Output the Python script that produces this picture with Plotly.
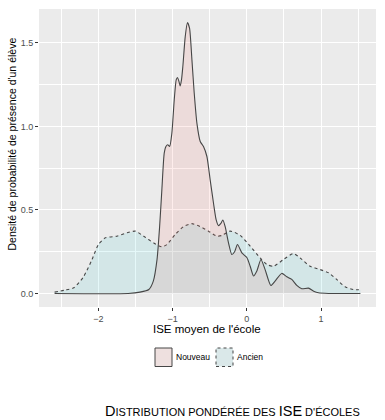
import plotly.graph_objects as go

# Nouveau (solid)
nouveau_x = [-2.59, -1.6, -1.44, -1.32, -1.26, -1.21, -1.175, -1.145, -1.113, -1.09, -1.065, -1.04,
             -1.01, -0.978, -0.951, -0.934, -0.915, -0.898, -0.88, -0.862, -0.83, -0.80, -0.772,
             -0.74, -0.709, -0.673, -0.628, -0.584, -0.538, -0.494, -0.449, -0.413, -0.382,
             -0.35, -0.323, -0.292, -0.247, -0.202, -0.165, -0.126, -0.067, 0.0, 0.045, 0.09,
             0.135, 0.19, 0.246, 0.323, 0.38, 0.47, 0.538, 0.605, 0.673, 0.74, 0.83, 0.9, 0.965,
             1.1, 1.53]
nouveau_y = [0.0, 0.0, 0.008, 0.024, 0.074, 0.203, 0.40, 0.62, 0.84, 0.88, 0.89, 0.88,
             0.96, 1.16, 1.28, 1.293, 1.27, 1.243, 1.28, 1.36, 1.538, 1.622, 1.588,
             1.40, 1.20, 1.02, 0.91, 0.88, 0.82, 0.68, 0.54, 0.44, 0.406,
             0.42, 0.44, 0.40, 0.303, 0.233, 0.25, 0.293, 0.243, 0.215, 0.163, 0.105,
             0.135, 0.203, 0.143, 0.048, 0.074, 0.12, 0.10, 0.084, 0.048, 0.028, 0.032, 0.014, 0.004,
             0.0, 0.0]

# Ancien (dotted)
ancien_x = [-2.59, -2.45, -2.33, -2.2, -2.086, -2.0, -1.907, -1.75, -1.615, -1.503, -1.39, -1.257,
            -1.145, -1.077, -0.965, -0.853, -0.74, -0.628, -0.517, -0.404, -0.337, -0.225, -0.09,
            0.045, 0.18, 0.27, 0.36, 0.493, 0.628, 0.717, 0.852, 0.987, 1.1, 1.21, 1.323, 1.435, 1.53]
ancien_y = [0.008, 0.02, 0.034, 0.10, 0.203, 0.293, 0.333, 0.343, 0.363, 0.373, 0.343, 0.303,
            0.279, 0.293, 0.353, 0.40, 0.418, 0.40, 0.373, 0.343, 0.347, 0.373, 0.348,
            0.283, 0.213, 0.173, 0.163, 0.203, 0.239, 0.213, 0.163, 0.143, 0.124, 0.084, 0.04, 0.024, 0.022]

x_ticks = [-2, -1, 0, 1]
x_tick_labels = ["\u22122", "\u22121", "0", "1"]
y_ticks = [0.0, 0.5, 1.0, 1.5]
y_tick_labels = ["0.0", "0.5", "1.0", "1.5"]

legend_labels = ["Nouveau", "Ancien"]

FONT = "Liberation Sans, Arial, sans-serif"
LINE = "rgb(70,70,70)"
PINK = "rgba(248,118,109,0.13)"
TEAL = "rgba(0,191,196,0.10)"

fig = go.Figure()
fig.add_trace(go.Scatter(x=ancien_x, y=ancien_y, mode="lines", fill="tozeroy",
                         fillcolor=TEAL, line=dict(color=LINE, width=1.1, dash="dot",
                                                   shape="spline", smoothing=0.6),
                         name=legend_labels[1], showlegend=False, hoverinfo="skip"))
fig.add_trace(go.Scatter(x=nouveau_x, y=nouveau_y, mode="lines", fill="tozeroy",
                         fillcolor=PINK, line=dict(color=LINE, width=1.1,
                                                   shape="spline", smoothing=0.6),
                         name=legend_labels[0], showlegend=False, hoverinfo="skip"))

axis_common = dict(showline=False, zeroline=False, gridcolor="white", gridwidth=1.1,
                   ticks="outside", ticklen=3, tickcolor="#333333", tickwidth=1,
                   tickfont=dict(family=FONT, size=9, color="#4D4D4D"))

fig.update_xaxes(range=[-2.8, 1.74], tickvals=x_ticks, ticktext=x_tick_labels,
                 minor=dict(tickvals=[-2.5, -1.5, -0.5, 0.5, 1.5], showgrid=True,
                            gridcolor="white", gridwidth=0.5, ticks=""),
                 **axis_common)
fig.update_yaxes(range=[-0.081, 1.703], tickvals=y_ticks, ticktext=y_tick_labels,
                 minor=dict(tickvals=[0.25, 0.75, 1.25], showgrid=True,
                            gridcolor="white", gridwidth=0.5, ticks=""),
                 **axis_common)

W, H = 385, 420
L, T, R, B = 39, 9, 9, 113
pw, ph = W - L - R, H - T - B

def px(xp):
    return (xp - L) / pw

def py(yp):
    return (H - B - yp) / ph

annotations = [
    dict(text="ISE moyen de l'école", x=px(207), y=py(329), xref="paper", yref="paper",
         showarrow=False, font=dict(family=FONT, size=11.5, color="black"),
         xanchor="center", yanchor="middle"),
    dict(text="Densité de probabilité de présence d'un élève", x=px(11.5), y=py(144),
         xref="paper", yref="paper", showarrow=False, textangle=-90,
         font=dict(family=FONT, size=10.5, color="black"), xanchor="center", yanchor="middle"),
    dict(text=legend_labels[0], x=px(174), y=py(357), xref="paper", yref="paper",
         showarrow=False, font=dict(family=FONT, size=8.5, color="black"),
         xanchor="left", yanchor="middle"),
    dict(text=legend_labels[1], x=px(235), y=py(357), xref="paper", yref="paper",
         showarrow=False, font=dict(family=FONT, size=8.5, color="black"),
         xanchor="left", yanchor="middle"),
    dict(text=("<span style='font-size:14.5px'>D</span>ISTRIBUTION PONDÉRÉE DES "
               "<span style='font-size:14.5px'>ISE</span> D'ÉCOLES"),
         x=px(232.5), y=py(410.5), xref="paper", yref="paper", showarrow=False,
         font=dict(family=FONT, size=11, color="black"), xanchor="center", yanchor="middle"),
]

shapes = [
    dict(type="rect", xref="paper", yref="paper", x0=px(155), x1=px(172), y0=py(366.5), y1=py(348),
         fillcolor="rgb(238,224,223)", line=dict(color=LINE, width=1)),
    dict(type="rect", xref="paper", yref="paper", x0=px(216), x1=px(233), y0=py(366.5), y1=py(348),
         fillcolor="rgb(218,232,233)", line=dict(color=LINE, width=1, dash="dot")),
]

fig.update_layout(width=W, height=H, margin=dict(l=L, r=R, t=T, b=B),
                  paper_bgcolor="white", plot_bgcolor="#EBEBEB",
                  annotations=annotations, shapes=shapes, showlegend=False,
                  font=dict(family=FONT), hovermode=False)

fig.write_html("out.html", config={"displayModeBar": False},
               post_script="document.body.style.margin='0';")
